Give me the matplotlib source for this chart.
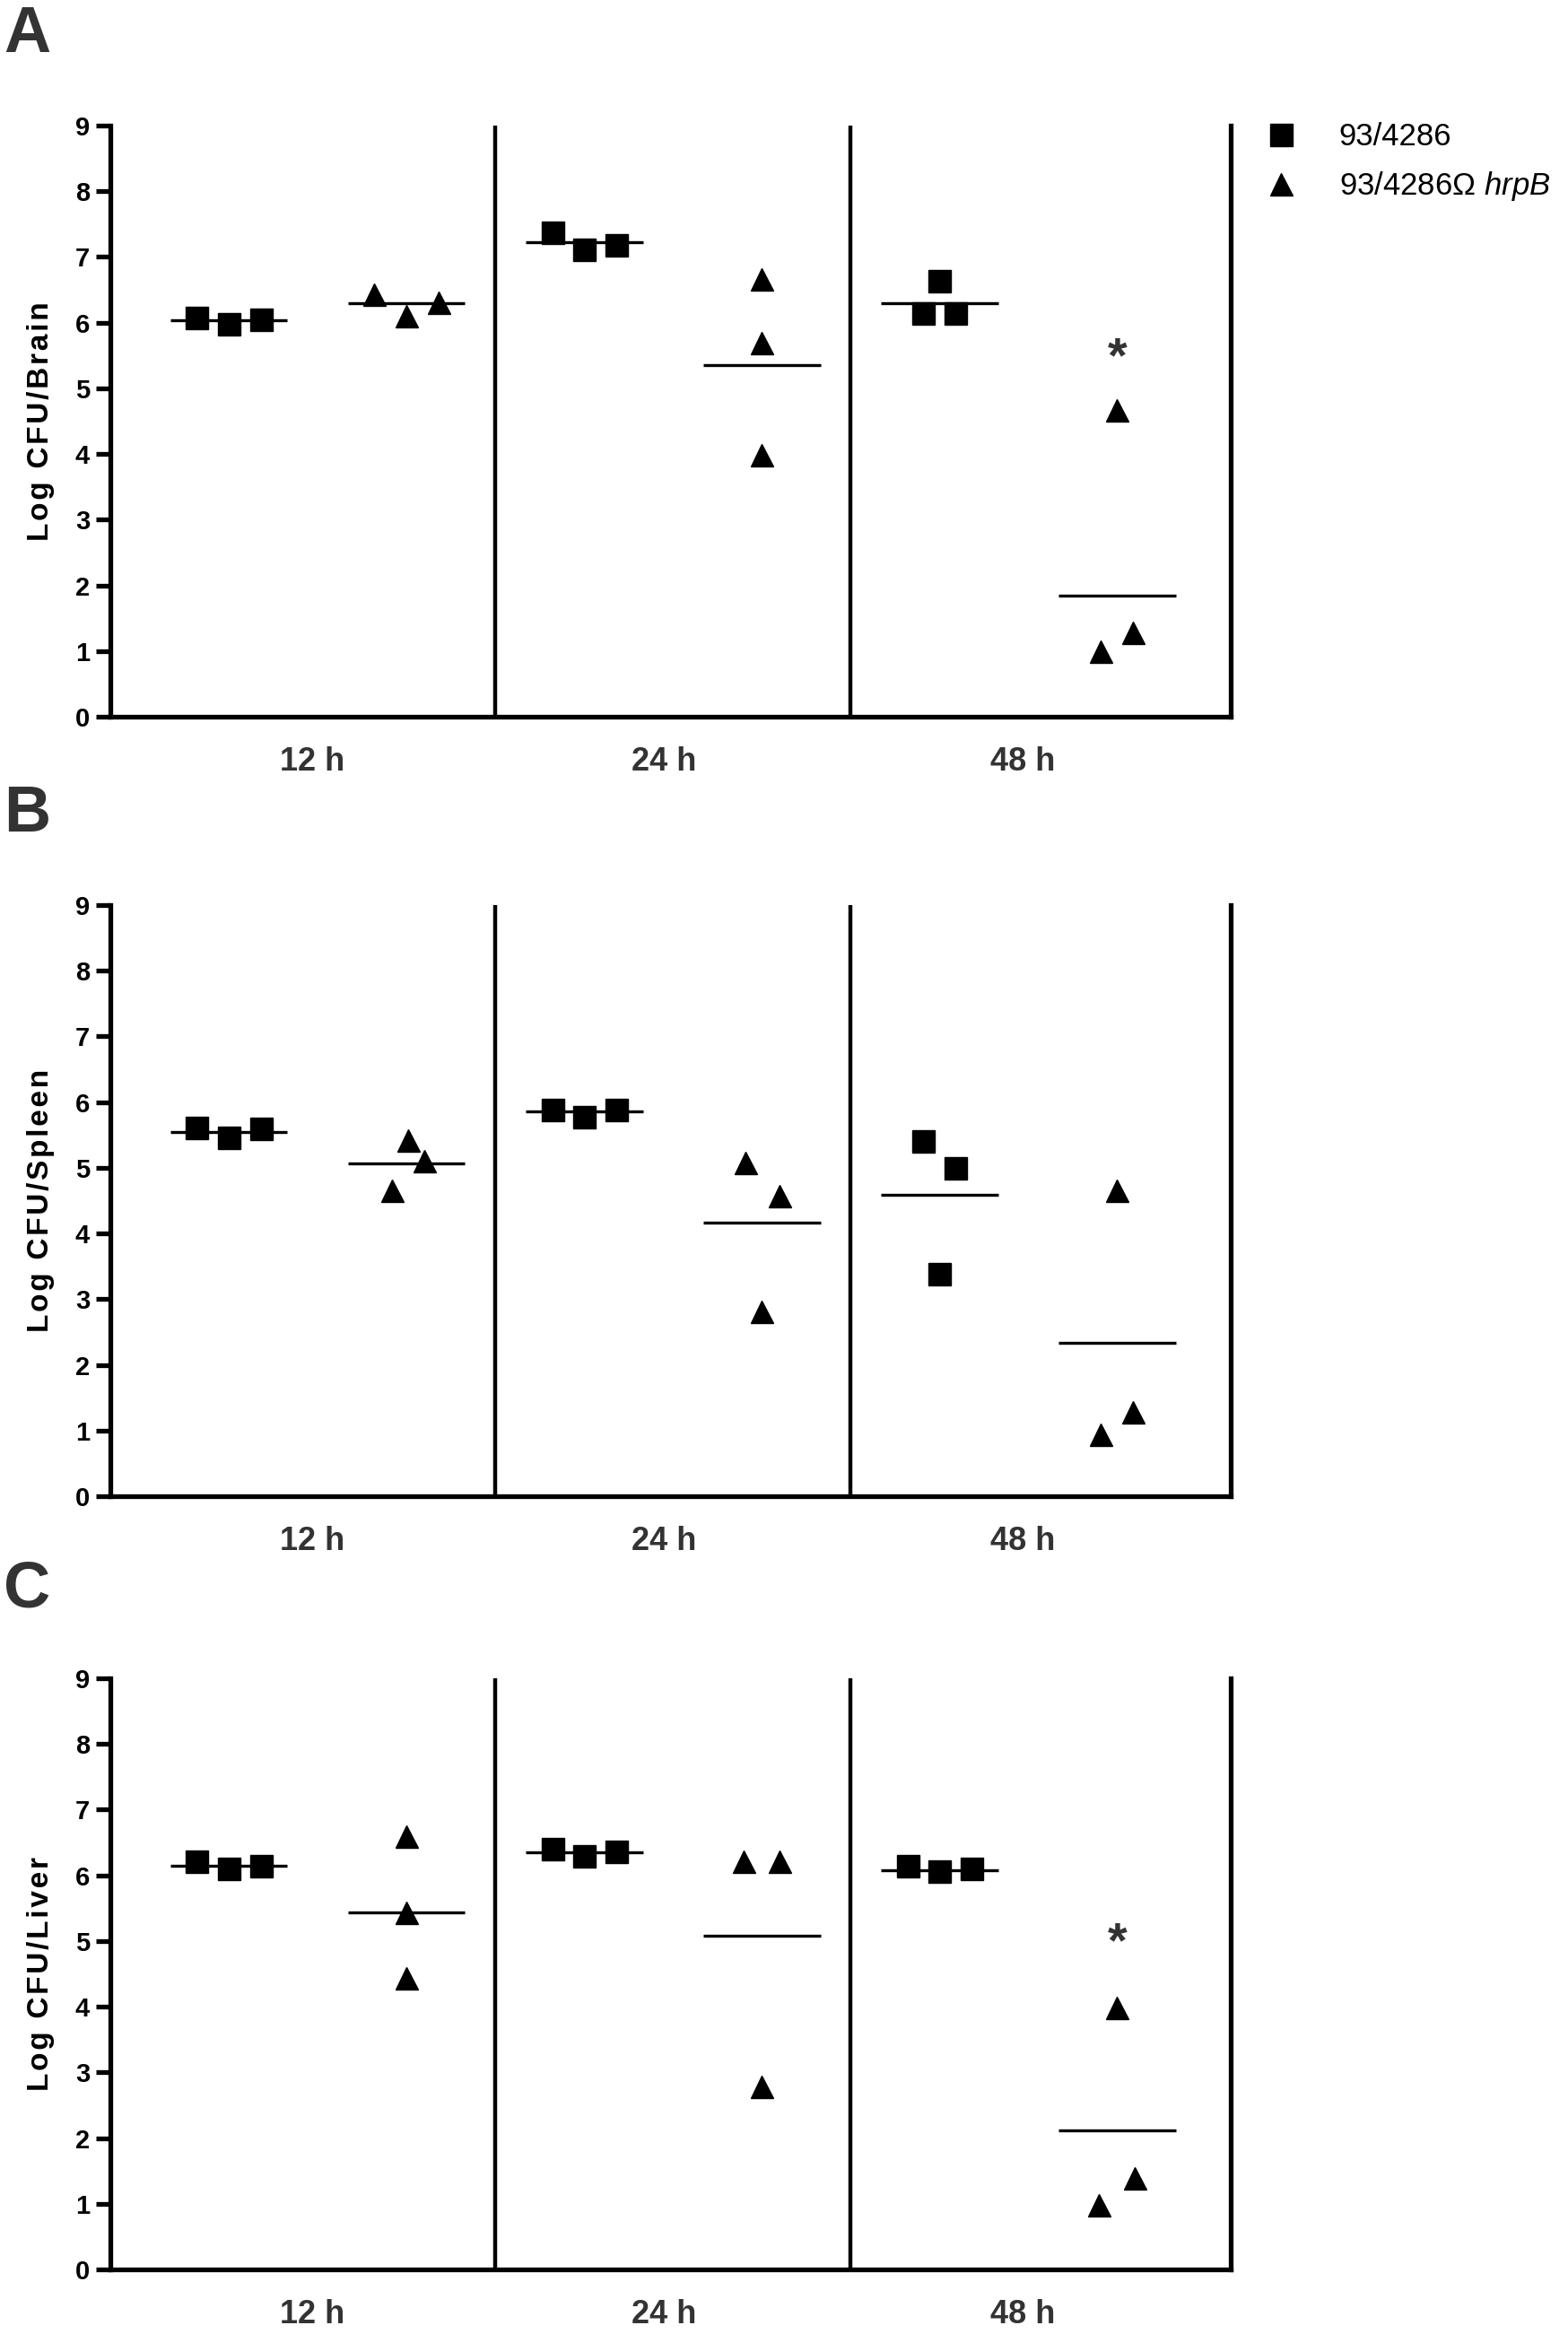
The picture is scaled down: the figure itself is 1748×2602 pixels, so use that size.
import matplotlib
matplotlib.use('Agg')
import matplotlib.pyplot as plt
from matplotlib.lines import Line2D

plt.rcParams['font.family'] = ['Liberation Sans', 'DejaVu Sans']
plt.rcParams['mathtext.fontset'] = 'custom'
plt.rcParams['mathtext.rm'] = 'Liberation Sans'
plt.rcParams['mathtext.it'] = 'Liberation Sans:italic'

times = ['12 h', '24 h', '48 h']
strain_wt = '93/4286'
strain_mut = '93/4286\u03a9 $\\mathit{hrpB}$'

# Log CFU per organ, 3 mice per group
brain_wt = [[6.08, 5.98, 6.05], [7.37, 7.11, 7.19], [6.14, 6.64, 6.14]]
brain_mut = [[6.43, 6.11, 6.31], [6.67, 5.69, 3.99], [1.00, 4.67, 1.29]]
brain_wt_mean = [6.04, 7.23, 6.30]
brain_mut_mean = [6.29, 5.35, 1.84]

spleen_wt = [[5.61, 5.46, 5.60], [5.88, 5.78, 5.88], [5.41, 3.39, 5.00]]
spleen_mut = [[4.66, 5.42, 5.11], [5.08, 2.82, 4.58], [0.94, 4.66, 1.29]]
spleen_wt_mean = [5.55, 5.86, 4.59]
spleen_mut_mean = [5.07, 4.16, 2.34]

liver_wt = [[6.21, 6.11, 6.15], [6.41, 6.30, 6.36], [6.15, 6.06, 6.11]]
liver_mut = [[6.59, 5.44, 4.44], [6.21, 2.79, 6.21], [0.98, 3.99, 1.39]]
liver_wt_mean = [6.15, 6.35, 6.08]
liver_mut_mean = [5.44, 5.08, 2.12]

# significance stars (time index, y)
brain_star = [(2, 5.45)]
spleen_star = []
liver_star = [(2, 4.96)]

# horizontal scatter of the points inside each column
wide = [-0.18, 0, 0.18]
narrow = [-0.09, 0, 0.09]
flat = [0, 0, 0]
brain_dx = ([wide, wide, narrow], [wide, flat, narrow])
spleen_dx = ([wide, wide, narrow], [[-0.08, 0.01, 0.10], [-0.09, 0, 0.10], narrow])
liver_dx = ([wide, wide, wide], [flat, [-0.10, 0, 0.10], [-0.10, 0, 0.10]])

panels = [
    ('A', 'Log CFU/Brain', brain_wt, brain_mut, brain_wt_mean, brain_mut_mean, brain_dx, brain_star, 799, 5),
    ('B', 'Log CFU/Spleen', spleen_wt, spleen_mut, spleen_wt_mean, spleen_mut_mean, spleen_dx, spleen_star, 1668, 874),
    ('C', 'Log CFU/Liver', liver_wt, liver_mut, liver_wt_mean, liver_mut_mean, liver_dx, liver_star, 2530, 1739),
]

W, H = 1749, 2602
fig = plt.figure(figsize=(W / 100, H / 100), dpi=100)

def spaced(s):
    return '\u200a'.join(s)

for letter, ylab, wt, mut, wt_m, mut_m, dx, stars, ybot, ytop_letter in panels:
    ax = fig.add_axes([123 / W, 1 - ybot / H, 1249 / W, 659 / H])
    for i in range(3):
        xw = 2 * i
        xm = 2 * i + 1
        ax.plot([xw + d for d in dx[0][i]], wt[i], 's', color='black', ms=18, ls='none', zorder=3)
        ax.plot([xm + d for d in dx[1][i]], mut[i], '^', color='black', ms=18, ls='none', zorder=3)
        ax.hlines(wt_m[i], xw - 0.33, xw + 0.33, color='black', lw=2.4, zorder=2)
        ax.hlines(mut_m[i], xm - 0.33, xm + 0.33, color='black', lw=2.4, zorder=2)
    for t, yv in stars:
        ax.text(2 * t + 1, yv, '*', ha='center', va='center', fontsize=40,
                fontweight='bold', color='#333333')
    for xs in [1.5, 3.5]:
        ax.axvline(xs, color='black', lw=3.2)

    ax.set_xlim(-0.667, 5.64)
    ax.set_ylim(0, 9)
    ax.set_yticks(range(10))
    ax.set_xticks([0.47, 2.45, 4.47])
    ax.set_xticklabels(times)
    ax.spines['top'].set_visible(False)
    for s in ['left', 'bottom', 'right']:
        ax.spines[s].set_linewidth(3.8)
    ax.tick_params(axis='y', length=11.5, width=3.8, pad=5, labelsize=21)
    ax.tick_params(axis='x', length=0, pad=24, labelsize=26, labelcolor='#333333')
    for lb in ax.get_yticklabels() + ax.get_xticklabels():
        lb.set_fontweight('bold')
    ax.set_ylabel(spaced(ylab), fontsize=24, fontweight='bold')
    ax.yaxis.set_label_coords(-0.050, 0.5)

    fig.text(4 / W, 1 - ytop_letter / H, letter, ha='left', va='top', fontsize=52,
             fontweight='bold', color='#333333')

    if letter == 'A':
        handles = [Line2D([], [], marker='s', color='black', ls='none', ms=18),
                   Line2D([], [], marker='^', color='black', ls='none', ms=18)]
        ax.legend(handles, [strain_wt, strain_mut], loc='upper left',
                  bbox_to_anchor=(1411 / W, 1 - 136 / H), bbox_transform=fig.transFigure,
                  frameon=False, fontsize=25, handlelength=1.0, handletextpad=1.35,
                  labelspacing=0.58, borderpad=0, borderaxespad=0)

fig.savefig('out.png', dpi=100)
